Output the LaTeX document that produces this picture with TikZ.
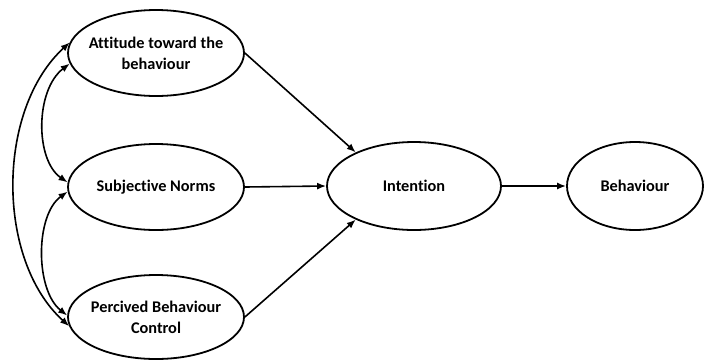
\documentclass[tikz,border=0pt]{standalone}
\usepackage{fontspec}
\setmainfont{Carlito}[Ligatures=NoCommon]
\usetikzlibrary{shapes.geometric,arrows.meta}
\begin{document}
\begin{tikzpicture}[x=1pt,y=-1pt,
  oval/.style={draw,ellipse,line width=1.8pt,inner sep=0pt,minimum width=176pt,minimum height=86pt},
  txt/.style={align=center,font=\fontsize{16.3}{21}\selectfont\bfseries},
  conn/.style={line width=1.6pt,-{Latex[length=9pt,width=7pt]}},
  dconn/.style={line width=1.6pt,{Latex[length=9pt,width=7pt]}-{Latex[length=9pt,width=7pt]}}]
\useasboundingbox (0,0) rectangle (704,360);
\node[oval,label={[txt]center:Attitude toward the\\behaviour}] (att) at (156,53) {};
\node[oval,label={[txt]center:Subjective Norms}] (sub) at (156,187) {};
\node[oval,minimum height=84pt,label={[txt]center:Percived Behaviour\\Control}] (per) at (156,317) {};
\node[oval,minimum width=174pt,minimum height=88pt,label={[txt]center:Intention}] (int) at (414,186) {};
\node[oval,minimum width=136pt,minimum height=88pt,label={[txt]center:Behaviour}] (beh) at (635,186) {};
\draw[conn] (att.east) -- (int.150);
\draw[conn] (sub.east) -- (int.west);
\draw[conn] (per.east) -- (int.210);
\draw[conn] (int.east) -- (beh.west);
\draw[dconn] (att.187) .. controls (35,90) and (35,160) .. (sub.177);
\draw[dconn] (sub.183) .. controls (35,215) and (35,290) .. (per.179);
\draw[dconn] (att.173) .. controls (-4,110) and (-4,260) .. (per.186);
\end{tikzpicture}
\end{document}
